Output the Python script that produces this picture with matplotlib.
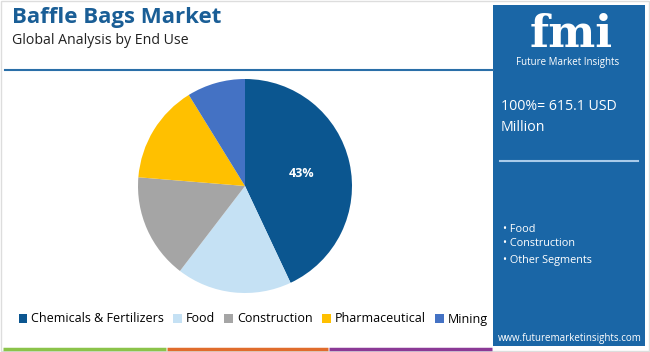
import matplotlib
matplotlib.use("Agg")
from matplotlib import pyplot as plt
from matplotlib.patches import Rectangle
from matplotlib.lines import Line2D

plt.rcParams['font.family'] = ['Open Sans', 'DejaVu Sans']

# Data
segments = ['Chemicals & Fertilizers', 'Food', 'Construction', 'Pharmaceutical', 'Mining']
shares = [43.0, 17.4, 15.9, 14.9, 8.8]
colours = ['#0b5690', '#c5e1f4', '#a5a5a5', '#ffc000', '#4472c4']
panel_bullets = ['Food', 'Construction', 'Other Segments']
total_text = '100%= 615.1 USD\nMillion'

W, H = 650, 352
fig = plt.figure(figsize=(W / 100, H / 100), dpi=100)
fig.patch.set_facecolor('white')

def fx(px):
    return px / W

def fy(py):
    return 1 - py / H

# outer light frame
fig.add_artist(Rectangle((0.001, 0.002), 0.997, 0.995, transform=fig.transFigure,
                         fill=False, edgecolor='#dddddd', linewidth=1))

# title block
fig.text(fx(12), fy(18), 'Baffle Bags Market', fontsize=16, fontweight='bold',
         color='#1a5e96', va='center', ha='left')
fig.text(fx(12), fy(40), 'Global Analysis by End Use', fontsize=10.2,
         color='#222222', va='center', ha='left')
fig.add_artist(Line2D([fx(5), fx(493)], [fy(70), fy(70)], transform=fig.transFigure,
                      color='#2a6fa8', linewidth=1.5))

# pie
cx, cy, r = 245, 186, 107
ax = fig.add_axes([fx(cx - r), fy(cy + r), 2 * r / W, 2 * r / H])
wedges, _, autotexts = ax.pie(shares, colors=colours, startangle=90, counterclock=False,
                              autopct=lambda p: '%d%%' % round(p) if p > 40 else '',
                              pctdistance=0.54, radius=1,
                              wedgeprops=dict(linewidth=0))
for t in autotexts:
    t.set_color('white')
    t.set_fontweight('bold')
    t.set_fontsize(9)
ax.set_xlim(-1, 1)
ax.set_ylim(-1, 1)
ax.set_aspect('equal')

# legend
fig.legend(wedges, segments, loc='center', bbox_to_anchor=(fx(253), fy(319)), ncol=5,
           frameon=False, fontsize=9, handlelength=0.7, handleheight=0.7,
           handletextpad=0.3, columnspacing=0.75, borderaxespad=0)

# bottom colour strips
for x0, x1, c in [(3, 166, '#8bc34a'), (167, 328, '#e06c2c'), (329, 492, '#8b3a96')]:
    fig.add_artist(Line2D([fx(x0), fx(x1)], [fy(349), fy(349)], transform=fig.transFigure,
                          color=c, linewidth=2.5, solid_capstyle='butt'))

# right panel
px0, px1, py0, py1 = 493, 645, 5, 346
panel_colour = '#1a66a6'
fig.add_artist(Rectangle((fx(px0), fy(py1)), (px1 - px0) / W, (py1 - py0) / H,
                         transform=fig.transFigure, facecolor=panel_colour, edgecolor='none'))
fig.text(fx(571), fy(47), 'fmi', fontsize=32, fontweight='bold', family='DejaVu Serif',
         color='white', ha='center', va='baseline')
for yy in range(18, 50, 4):
    fig.add_artist(Line2D([fx(512), fx(630)], [fy(yy), fy(yy)], transform=fig.transFigure,
                          color=panel_colour, linewidth=0.8))
fig.text(fx(568), fy(63), 'Future Market Insights', fontsize=7, color='white',
         ha='center', va='center')
fig.text(fx(501), fy(117), total_text, fontsize=10.2, color='white', ha='left',
         va='center', linespacing=1.55)
fig.add_artist(Line2D([fx(500), fx(638)], [fy(161), fy(161)], transform=fig.transFigure,
                      color='#a9cbea', linewidth=1.5))
for i, b in enumerate(panel_bullets):
    fig.text(fx(503), fy([229, 243, 260][i]), '\u2022 ' + b, fontsize=7.8, color='white',
             ha='left', va='center')
fig.text(fx(570), fy(338), 'www.futuremarketinsights.com', fontsize=7, color='white',
         ha='center', va='center')

fig.savefig('out.png', dpi=100)
